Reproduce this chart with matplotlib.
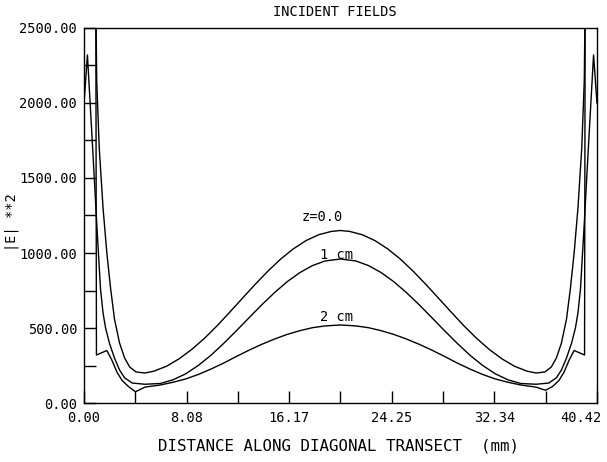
import matplotlib
matplotlib.use("Agg")
import matplotlib.pyplot as plt
import matplotlib.transforms as mtransforms

# ---- data ----
# z = 0.0 curve
x_z0 = [0.93, 1.00, 1.20, 1.50, 1.80, 2.10, 2.40, 2.80, 3.20, 3.60, 4.10, 4.80, 5.50,
        6.50, 7.50, 8.50, 9.50, 10.50, 11.50, 12.50, 13.50, 14.50, 15.50, 16.50, 17.50,
        18.50, 19.50, 20.21,
        20.92, 21.92, 22.92, 23.92, 24.92, 25.92, 26.92, 27.92, 28.92, 29.92, 30.92,
        31.92, 32.92, 33.92, 34.92,
        35.62, 36.32, 36.82, 37.22, 37.62, 38.02, 38.32, 38.62, 38.92, 39.22, 39.42, 39.49]
e_z0 = [2700, 2150, 1700, 1300, 1000, 760, 560, 400, 300, 240, 207, 200, 212,
        245, 295, 358, 432, 516, 607, 700, 792, 880, 960, 1028, 1083,
        1122, 1144, 1150,
        1144, 1122, 1083, 1028, 960, 880, 792, 700, 607, 516, 432,
        358, 295, 245, 212,
        200, 207, 240, 300, 400, 560, 760, 1000, 1300, 1700, 2150, 2700]

# z = 1 cm curve
x_1cm = [0.00, 0.27, 0.70, 1.00, 1.30, 1.50, 1.70, 2.00, 2.40, 2.80, 3.20, 3.80, 4.80, 6.00,
         7.00, 8.00, 9.00, 10.00, 11.00, 12.00, 13.00, 14.00, 15.00, 16.00, 17.00, 18.00,
         19.00, 20.21,
         21.42, 22.42, 23.42, 24.42, 25.42, 26.42, 27.42, 28.42, 29.42, 30.42, 31.42,
         32.42, 33.42, 34.42,
         35.62, 36.62, 37.22, 37.62, 38.02, 38.42, 38.72, 38.92, 39.12, 39.42, 39.72, 40.15, 40.42]
e_1cm = [2000, 2320, 1670, 1200, 760, 600, 500, 400, 300, 220, 168, 133, 125, 130,
         154, 194, 250, 318, 397, 481, 568, 654, 735, 808, 869, 916,
         947, 960,
         947, 916, 869, 808, 735, 654, 568, 481, 397, 318, 250,
         194, 154, 130,
         125, 133, 168, 220, 300, 400, 500, 600, 760, 1200, 1670, 2320, 2000]

# z = 2 cm curve
x_2cm = [0.93, 0.98, 1.80, 2.20, 2.60, 3.00, 3.50, 4.06, 4.80, 6.00,
         7.00, 8.00, 9.00, 10.00, 11.00, 12.00, 13.00, 14.00, 15.00, 16.00, 17.00, 18.00,
         19.00, 20.21,
         21.42, 22.42, 23.42, 24.42, 25.42, 26.42, 27.42, 28.42, 29.42, 30.42, 31.42,
         32.42, 33.42, 34.42,
         35.62, 36.36, 36.92, 37.42, 37.82, 38.22, 38.62, 39.44, 39.49]
e_2cm = [2700, 320, 350, 285, 205, 150, 110, 75, 106, 120,
         138, 160, 190, 226, 266, 310, 352, 391, 426, 457, 482, 502,
         514, 520,
         514, 502, 482, 457, 426, 391, 352, 310, 266, 226, 190,
         160, 138, 120,
         106, 85, 110, 150, 205, 285, 350, 320, 2700]

curve_labels = ["z=0.0", "1 cm", "2 cm"]
label_pos = [(18.75, 1240), (19.9, 987), (19.9, 573)]

x_ticks = [0.0, 8.084, 16.168, 24.252, 32.336, 40.42]
x_tick_labels = ["0.00", "8.08", "16.17", "24.25", "32.34", "40.42"]
x_minor = [4.042, 12.126, 20.21, 28.294, 36.378]
y_ticks = [0, 500, 1000, 1500, 2000, 2500]
y_tick_labels = ["0.00", "500.00", "1000.00", "1500.00", "2000.00", "2500.00"]
y_minor = [250, 750, 1250, 1750, 2250]

plt.rcParams["font.family"] = ["DejaVu Sans Mono"]

fig = plt.figure(figsize=(6.07, 4.62), dpi=100)
ax = fig.add_axes([0.1384, 0.1277, 0.8451, 0.8117])

ax.plot(x_z0, e_z0, color="black", lw=1.0)
ax.plot(x_1cm, e_1cm, color="black", lw=1.0)
ax.plot(x_2cm, e_2cm, color="black", lw=1.0)

for txt, (tx, ty) in zip(curve_labels, label_pos):
    ax.text(tx, ty, txt, ha="center", va="center", fontsize=9.8)

ax.set_xlim(0, 40.42)
ax.set_ylim(0, 2500)
ax.set_xticks(x_ticks)
ax.set_xticklabels(x_tick_labels)
ax.set_xticks(x_minor, minor=True)
ax.set_yticks(y_ticks)
ax.set_yticklabels(y_tick_labels)
ax.set_yticks(y_minor, minor=True)
ax.tick_params(which="both", direction="in", length=8.6, width=1.0,
               top=False, right=False, labelsize=9.8)
ax.tick_params(axis="x", pad=6)
ax.tick_params(axis="y", pad=5)
for s in ax.spines.values():
    s.set_linewidth(1.0)

# keep the last x label inside the frame, as in the original plot
last = ax.get_xticklabels()[-1]
last.set_transform(last.get_transform() +
                   mtransforms.ScaledTranslation(-0.16, 0, fig.dpi_scale_trans))

fig.text(0.552, 0.974, "INCIDENT FIELDS", ha="center", va="center", fontsize=9.8)
fig.text(0.558, 0.034, "DISTANCE ALONG DIAGONAL TRANSECT  (mm)", ha="center",
         va="center", fontsize=11.3)
fig.text(0.020, 0.52, "|E| **2", rotation=90, ha="center", va="center", fontsize=9.8)

fig.savefig("out.png", dpi=100)
